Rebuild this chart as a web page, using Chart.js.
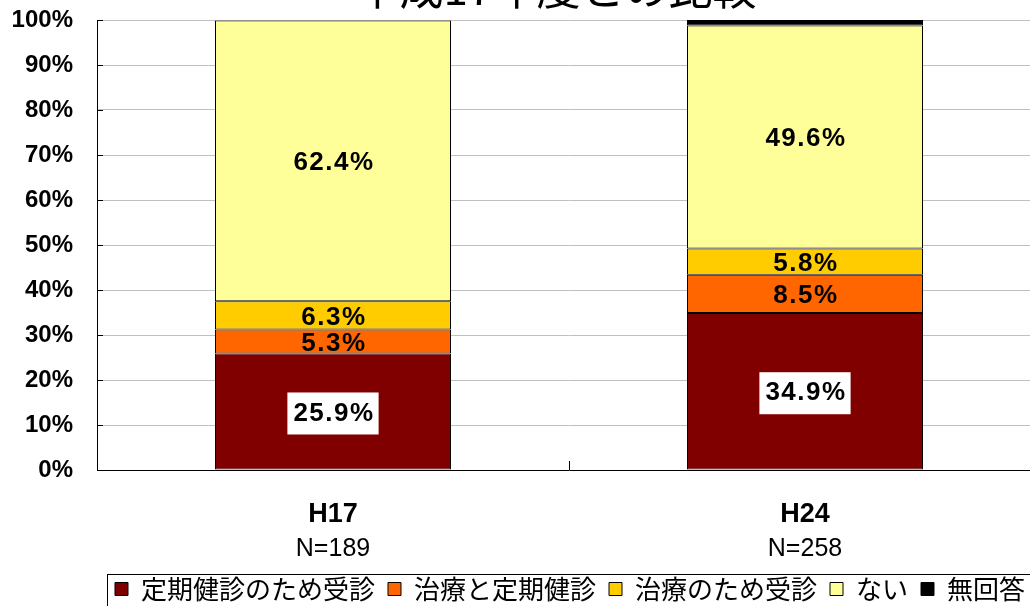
<!DOCTYPE html>
<html>
<head>
<meta charset="utf-8">
<script src="https://cdn.jsdelivr.net/npm/chart.js@4.4.1/dist/chart.umd.min.js"></script>
<style>
  html, body { margin: 0; padding: 0; background: #fff; width: 1030px; height: 606px; overflow: hidden; }
  #wrap { position: absolute; left: 0; top: 0; width: 1140px; height: 620px; }
</style>
</head>
<body>
<div id="wrap"><canvas id="c" width="1140" height="620"></canvas></div>
<script>
// ---- data ----
const titleText = '平成17年度との比較';
const years = ['H17', 'H24'];
const sampleSizes = ['N=189', 'N=258'];
const seriesNames = ['定期健診のため受診', '治療と定期健診', '治療のため受診', 'ない', '無回答'];
const checkupOnly = [25.9, 34.9];
const treatmentAndCheckup = [5.3, 8.5];
const treatmentOnly = [6.3, 5.8];
const noVisit = [62.4, 49.6];
const noAnswer = [0, 1.2];
const seriesValues = [checkupOnly, treatmentAndCheckup, treatmentOnly, noVisit, noAnswer];
const yMin = 0, yMax = 100, yStep = 10;

// ---- styles ----
const seriesColors = ['#800000', '#FF6600', '#FFCC00', '#FFFF99', '#000000'];
const LATIN = '"Liberation Sans", Arial, sans-serif';
const CJK = '"Noto Sans CJK JP", sans-serif';

const datasets = seriesNames.map((name, i) => ({
  label: name,
  data: seriesValues[i],
  backgroundColor: seriesColors[i],
  borderColor: '#000',
  borderWidth: 1,
  borderSkipped: false,
  showValue: i < 4,
  boxedValue: i === 0
}));

// Percentage labels centred in each stacked segment
const valueLabels = {
  id: 'valueLabels',
  afterDatasetsDraw(chart) {
    const ctx = chart.ctx;
    ctx.save();
    ctx.font = 'bold 26px ' + LATIN;
    if ('letterSpacing' in ctx) ctx.letterSpacing = '1.5px';
    ctx.textAlign = 'center';
    ctx.textBaseline = 'middle';
    chart.data.datasets.forEach((ds, i) => {
      if (!ds.showValue) return;
      chart.getDatasetMeta(i).data.forEach((bar, j) => {
        const v = ds.data[j];
        if (!v) return;
        const txt = v.toFixed(1) + '%';
        const y = (bar.y + bar.base) / 2 + 2;
        if (ds.boxedValue) {
          const w = ctx.measureText(txt).width;
          ctx.fillStyle = '#fff';
          ctx.fillRect(bar.x - w / 2 - 5, y - 21, w + 10, 42);
        }
        ctx.fillStyle = '#000';
        ctx.fillText(txt, bar.x + 1, y);
      });
    });
    ctx.restore();
  }
};

// Inside tick marks on both axes, a partly hidden heading, and the legend frame
const decorations = {
  id: 'decorations',
  afterDraw(chart) {
    const ctx = chart.ctx;
    const area = chart.chartArea;
    const ys = chart.scales.y, xs = chart.scales.x;
    ctx.save();
    ctx.strokeStyle = '#000';
    ctx.lineWidth = 1;
    ctx.beginPath();
    ys.ticks.forEach((t) => {
      const py = Math.round(ys.getPixelForValue(t.value)) + 0.5;
      ctx.moveTo(area.left, py);
      ctx.lineTo(area.left + 6, py);
    });
    for (let k = 0; k < years.length - 1; k++) {
      const px = Math.round((xs.getPixelForValue(k) + xs.getPixelForValue(k + 1)) / 2) + 0.5;
      ctx.moveTo(px, area.bottom);
      ctx.lineTo(px, area.bottom - 9);
    }
    ctx.stroke();

    // heading
    ctx.fillStyle = '#000';
    ctx.font = '44px ' + CJK;
    ctx.textAlign = 'center';
    ctx.textBaseline = 'alphabetic';
    ctx.fillText(titleText, chart.width / 2 - 14, 5);

    // legend frame
    const lg = chart.legend;
    if (lg && lg.legendHitBoxes && lg.legendHitBoxes.length) {
      const hb = lg.legendHitBoxes;
      const l = Math.min(...hb.map(h => h.left)) - 8;
      const r = Math.max(...hb.map(h => h.left + h.width)) + 8;
      const t = Math.min(...hb.map(h => h.top)) - 2;
      ctx.strokeStyle = '#000';
      ctx.strokeRect(Math.round(l) + 0.5, Math.round(t) + 0.5, r - l, 80);
    }
    ctx.restore();
  }
};

new Chart(document.getElementById('c'), {
  type: 'bar',
  data: { labels: years, datasets },
  options: {
    responsive: false,
    animation: false,
    devicePixelRatio: 1,
    layout: { padding: { top: 20, right: 0, left: 0, bottom: 8 } },
    datasets: { bar: { barPercentage: 0.5, categoryPercentage: 1.0 } },
    scales: {
      x: {
        stacked: true,
        offset: true,
        weight: 0,
        grid: { display: false, drawTicks: false },
        border: { display: true, color: '#000', width: 1 },
        ticks: { color: '#000', padding: 28, font: { family: LATIN, size: 27, weight: 'bold' } },
        afterFit(s) { s.height = 61; s.paddingLeft = 0; s.paddingRight = 0; }
      },
      xN: {
        type: 'category',
        labels: sampleSizes,
        position: 'bottom',
        offset: true,
        weight: 1,
        grid: { display: false, drawTicks: false },
        border: { display: false },
        ticks: { color: '#000', padding: 3, font: { family: LATIN, size: 25 } },
        afterFit(s) { s.height = 32; s.paddingLeft = 0; s.paddingRight = 0; }
      },
      y: {
        stacked: true,
        min: yMin,
        max: yMax,
        grid: { color: '#c0c0c0', lineWidth: 1, drawTicks: false },
        border: { display: true, color: '#000', width: 1 },
        ticks: {
          stepSize: yStep,
          padding: 24,
          color: '#000',
          font: { family: LATIN, size: 24, weight: 'bold' },
          callback: (v) => v + '%'
        },
        afterFit(s) { s.width = 97; s.paddingTop = 0; s.paddingBottom = 0; }
      },
      // empty margin on the right-hand side of the plot
      yRight: {
        type: 'linear',
        position: 'right',
        display: true,
        grid: { display: false, drawTicks: false },
        border: { display: false },
        ticks: { display: false },
        afterFit(s) { s.width = 99; s.paddingTop = 0; s.paddingBottom = 0; }
      }
    },
    plugins: {
      title: { display: false },
      tooltip: { enabled: false },
      legend: {
        display: true,
        position: 'bottom',
        labels: {
          color: '#000',
          boxWidth: 13,
          boxHeight: 13,
          padding: 13,
          font: { family: CJK, size: 26 }
        }
      }
    }
  },
  plugins: [valueLabels, decorations]
});
</script>
</body>
</html>
